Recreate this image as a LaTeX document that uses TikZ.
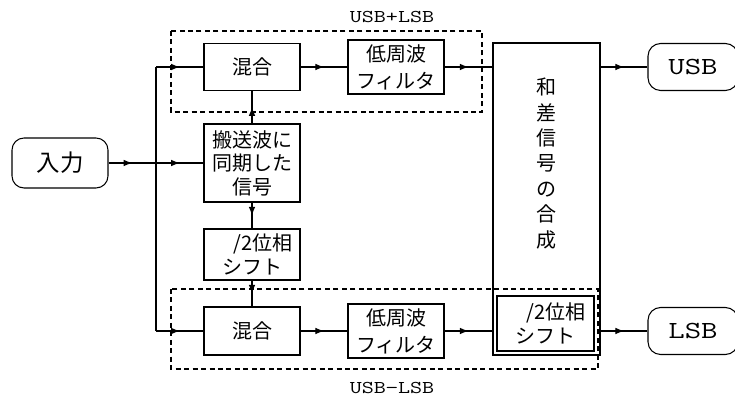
\documentclass[tikz,border=0pt]{standalone}
\usepackage{fontspec}
\setmainfont{Noto Sans CJK JP}
\usetikzlibrary{arrows.meta,decorations.markings}
\newcommand\monotext[2]{{\fontsize{#1}{#1}\selectfont\ttfamily\scalebox{1.3}[1]{#2}}}
\newcommand\phline{\hspace*{16pt}/2位相}
\begin{document}
\begin{tikzpicture}[x=0.75pt,y=-0.75pt, line width=0.8pt,
  box/.style={draw, inner sep=0pt, align=center, minimum width=72pt},
  jp/.style={font=\fontsize{15}{#1}\selectfont},
  term/.style={draw, rounded corners=9.5pt, inner sep=0pt, minimum width=67.5pt, minimum height=35.25pt},
  marr/.style={postaction={decorate}, decoration={markings, mark=at position 0.5 with {\arrow{Latex[length=6.5pt,width=5pt]}}}},
  grp/.style={draw, dash pattern=on 3.75pt off 2.6pt},
]
\useasboundingbox (0,0) rectangle (735,398);

% dashed groups
\draw[grp] (171,31) rectangle (482,112);
\draw[grp] (171,289) rectangle (598,369);
\node[inner sep=0pt] (lab1) at (392,17) {\monotext{13.5}{USB+LSB}};
\node[inner sep=0pt] (lab2) at (392,388) {\monotext{13.5}{USB−LSB}};

% nodes
\node[draw, rounded corners=9pt, inner sep=0pt, minimum width=72pt, minimum height=37.5pt,
      font=\fontsize{17.6}{20}\selectfont] (in) at (60,163) {入力};
\node[box, minimum height=35.25pt, jp=17.6] (mix1) at (252,67) {混合};
\node[box, minimum height=58.5pt, jp=17.6] (car) at (252,163) {搬送波に\\同期した\\信号};
\node[box, minimum height=38.25pt, jp=18] (ph1) at (252,254.5) {\phline\\シフト};
\node[box, minimum height=36pt, jp=17.6] (mix2) at (252,331) {混合};
\node[box, minimum height=40.5pt, jp=20.25] (lpf1) at (396,67) {低周波\\フィルタ};
\node[box, minimum height=40.5pt, jp=20.25] (lpf2) at (396,331) {低周波\\フィルタ};
\node[draw, inner sep=0pt, minimum width=80.25pt, minimum height=234pt] (big) at (546.5,199) {};
\node[inner sep=0pt, align=center, jp=19.1] (bigtxt) at (546.5,163.5) {和\\差\\信\\号\\の\\合\\成};
\node[box, minimum width=72.75pt, minimum height=41.25pt, jp=18] (ph2) at (545.5,323.5) {\phline\\シフト};
\node[term] (usb) at (693,67) {\monotext{18.4}{USB}};
\node[term] (lsb) at (693,331) {\monotext{18.4}{LSB}};

% connectors
\coordinate (j1) at (156,163);
\coordinate (jt) at (156,67);
\coordinate (jb) at (156,331);
\draw[marr] (in.east) -- (j1);
\draw[marr] (j1) -- (car.west);
\draw (jt) -- (jb);
\draw[marr] (jt) -- (mix1.west);
\draw[marr] (jb) -- (mix2.west);
\draw[marr] (car.north) -- (mix1.south);
\draw[marr] (car.south) -- (ph1.north);
\draw[marr] (ph1.south) -- (mix2.north);
\draw[marr] (mix1.east) -- (lpf1.west);
\draw[marr] (mix2.east) -- (lpf2.west);
\draw[marr] (lpf1.east) -- (lpf1.east -| big.west);
\draw[marr] (lpf2.east) -- (lpf2.east -| big.west);
\draw[marr] (usb.west -| big.east) -- (usb.west);
\draw[marr] (lsb.west -| big.east) -- (lsb.west);
\end{tikzpicture}
\end{document}
